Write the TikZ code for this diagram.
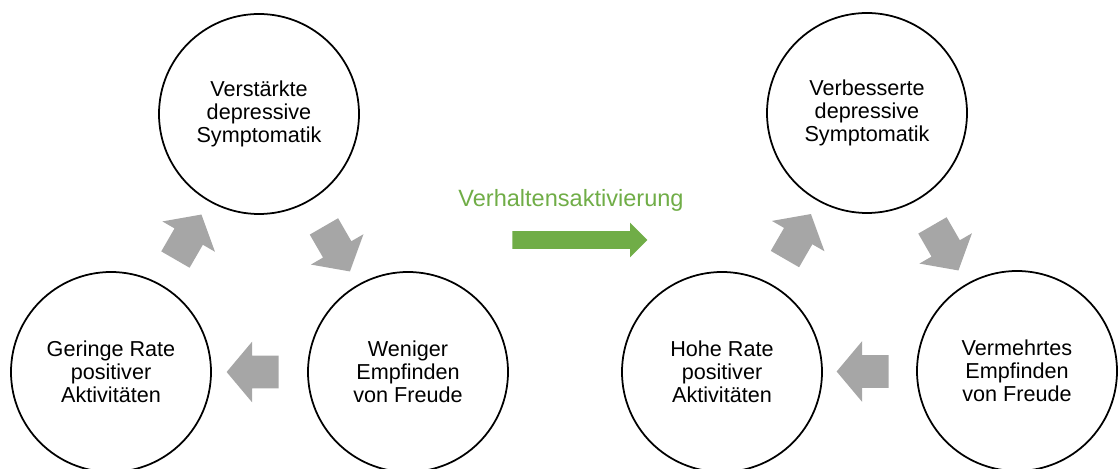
\documentclass[tikz,border=0pt]{standalone}
\usepackage{fontspec}
\setmainfont{Liberation Sans}
\usepackage{color}
\definecolor{mygreen}{RGB}{112,173,71}
\definecolor{mygray}{RGB}{166,166,166}
\usepackage{tikz}
\usetikzlibrary{calc,shapes.arrows,positioning}
\tikzstyle{circ}=[draw,circle,line width=1pt,minimum size=4cm,inner sep=0pt,align=center,font=\fontsize{12.3}{13}\selectfont]

\begin{document}
\begin{tikzpicture}[
  grayarrow/.style={
    single arrow,
    fill=mygray,
    inner xsep=0pt,
    inner ysep=0.32cm,
    minimum height=1.04cm,
    single arrow head extend=0.28cm,
    single arrow tip angle=100
    },
  greenarrow/.style={
    single arrow,
    fill=mygreen,
    inner xsep=0pt,
    inner ysep=0.17cm,
    minimum height=2.7cm,
    single arrow head extend=0.17cm
    }
]
\useasboundingbox (0,0) rectangle (22.36,9.38);

% vorher
\node[circ] (top) at (5.18,7.1) {Verstärkte\\depressive\\Symptomatik};
\node[circ] (br) at (8.16,1.94) {Weniger\\Empfinden\\von Freude};
\node[circ] (bl) at (2.22,1.94) {Geringe Rate\\positiver\\Aktivitäten};

\node[grayarrow, rotate=60] (a1) at ($(bl)!0.5!(top)$) {};
\node[grayarrow, rotate=-60] (a2) at ($(top)!0.5!(br)$) {};
\node[grayarrow, rotate=180] (a3) at ($(br)!0.5!(bl)$) {};

% nachher
\node[circ] (top2) at (17.34,7.12) {Verbesserte\\depressive\\Symptomatik};
\node[circ] (br2) at (20.34,1.96) {Vermehrtes\\Empfinden\\von Freude};
\node[circ] (bl2) at (14.44,1.94) {Hohe Rate\\positiver\\Aktivitäten};

\node[grayarrow, rotate=60] (b1) at ($(bl2)!0.5!(top2)$) {};
\node[grayarrow, rotate=-60] (b2) at ($(top2)!0.5!(br2)$) {};
\node[grayarrow, rotate=180] (b3) at ($(br2)!0.5!(bl2)$) {};

% Verhaltensaktivierung
\node[greenarrow] (va) at (11.51,4.58) {};
\node[text=mygreen, font=\fontsize{13.4}{15}\selectfont] (valabel) at (11.42,5.38) {Verhaltensaktivierung};

\end{tikzpicture}
\end{document}
